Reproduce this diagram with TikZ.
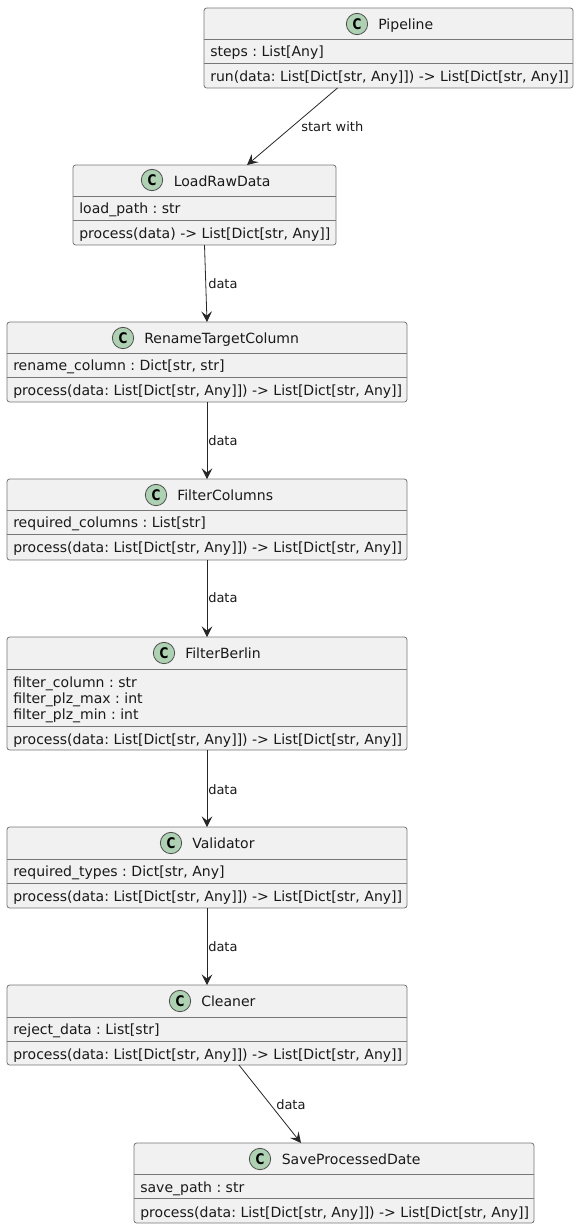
\documentclass[tikz,border=0pt]{standalone}
\usepackage{fontspec}
\setmainfont{DejaVu Sans}
\newfontfamily\iconfont[FakeStretch=0.82]{DejaVu Sans}
\usetikzlibrary{arrows.meta}
\definecolor{classfill}{HTML}{F1F1F1}
\definecolor{classedge}{HTML}{777777}
\definecolor{iconfill}{HTML}{ADD1B2}
\tikzset{%
    classbox/.style={rectangle, draw=classedge, fill=classfill, rounded corners=2pt,
    	line width=.6pt, inner sep=0pt, outer sep=0pt},
    wide/.style={classbox, minimum width=300pt},
    classicon/.style={circle, draw=black!70, fill=iconfill, minimum size=16pt,
    	inner sep=0pt, line width=.6pt, font=\fontsize{11}{12}\iconfont\bfseries},
    classtext/.style={anchor=base west, inner sep=0pt, text=black!90,
    	font=\fontsize{10.53}{12}\selectfont\frenchspacing},
    linktext/.style={anchor=base west, inner sep=0pt, text=black!90,
    	font=\fontsize{9.75}{12}\selectfont\frenchspacing},
    link/.style={draw=black!85, line width=.6pt, -{Stealth[length=8pt, width=8pt, inset=3.2pt]}}
}

\begin{document}
\begin{tikzpicture}[x=.75pt, y=-.75pt]
  \useasboundingbox (0,0) rectangle (579,1229);

  \node (pipe) [classbox, minimum width=276.75pt, minimum height=60pt] at (388.5,48) {};
  \node (load) [classbox, minimum width=197.25pt, minimum height=60pt] at (204.5,205) {};
  \node (rename) [wide, minimum height=60pt] at (207,362) {};
  \node (cols) [wide, minimum height=60.75pt] at (207,519.5) {};
  \node (berlin) [wide, minimum height=84.75pt] at (207,693.5) {};
  \node (valid) [wide, minimum height=60.75pt] at (207,867.5) {};
  \node (clean) [wide, minimum height=60pt] at (207,1025) {};
  \node (save) [wide, minimum height=60pt] at (334,1183) {};

  % header and member lines, px below the top of each box
  \foreach \n/\a/\b in {pipe/31/55, load/31/55, rename/31/55, cols/31/55,
      berlin/32/89, valid/32/56, clean/32/56, save/31/55} {
    \draw[classedge, line width=.6pt] ([yshift=-\a*.75pt]\n.north west) -- ([yshift=-\a*.75pt]\n.north east);
    \draw[classedge, line width=.6pt] ([yshift=-\b*.75pt]\n.north west) -- ([yshift=-\b*.75pt]\n.north east);
  }

  \node (pipeC) [classicon] at (357,24) {C};
  \node (pipeN) [classtext] at (378,29) {Pipeline};
  \node (pipeA) [classtext] at (210,56) {steps : List[Any]};
  \node (pipeM) [classtext] at (210,81) {run(data: List[Dict[str, Any]]) -> List[Dict[str, Any]]};

  \node (loadC) [classicon] at (152,180) {C};
  \node (loadN) [classtext] at (173.5,186) {LoadRawData};
  \node (loadA) [classtext] at (79,213) {load\_path : str};
  \node (loadM) [classtext] at (79,238) {process(data) -> List[Dict[str, Any]]};

  \node (renameC) [classicon] at (123,338) {C};
  \node (renameN) [classtext] at (144,343) {RenameTargetColumn};
  \node (renameA) [classtext] at (13,370) {rename\_column : Dict[str, str]};
  \node (renameM) [classtext] at (13,395) {process(data: List[Dict[str, Any]]) -> List[Dict[str, Any]]};

  \node (colsC) [classicon] at (156,495) {C};
  \node (colsN) [classtext] at (177,500) {FilterColumns};
  \node (colsA) [classtext] at (13,527) {required\_columns : List[str]};
  \node (colsM) [classtext] at (13,552) {process(data: List[Dict[str, Any]]) -> List[Dict[str, Any]]};

  \node (berlinC) [classicon] at (164,653) {C};
  \node (berlinN) [classtext] at (185,658) {FilterBerlin};
  \node (berlinA) [classtext] at (13,687) {filter\_column : str};
  \node (berlinB) [classtext] at (13,703) {filter\_plz\_max : int};
  \node (berlinD) [classtext] at (13,719) {filter\_plz\_min : int};
  \node (berlinM) [classtext] at (13,744) {process(data: List[Dict[str, Any]]) -> List[Dict[str, Any]]};

  \node (validC) [classicon] at (171,843) {C};
  \node (validN) [classtext] at (192,848) {Validator};
  \node (validA) [classtext] at (13,876) {required\_types : Dict[str, Any]};
  \node (validM) [classtext] at (13,901) {process(data: List[Dict[str, Any]]) -> List[Dict[str, Any]]};

  \node (cleanC) [classicon] at (180,1001) {C};
  \node (cleanN) [classtext] at (201,1006) {Cleaner};
  \node (cleanA) [classtext] at (13,1034) {reject\_data : List[str]};
  \node (cleanM) [classtext] at (13,1059) {process(data: List[Dict[str, Any]]) -> List[Dict[str, Any]]};

  \node (saveC) [classicon] at (260,1159) {C};
  \node (saveN) [classtext] at (281.5,1164) {SaveProcessedDate};
  \node (saveA) [classtext] at (140,1192) {save\_path : str};
  \node (saveM) [classtext] at (140,1217) {process(data: List[Dict[str, Any]]) -> List[Dict[str, Any]]};

  \draw[link] ([xshift=-38.25pt]pipe.south) -- ([xshift=31.9pt]load.north);
  \draw[link] (load.south) -- (rename.north);
  \draw[link] (rename.south) -- (cols.north);
  \draw[link] (cols.south) -- (berlin.north);
  \draw[link] (berlin.south) -- (valid.north);
  \draw[link] (valid.south) -- (clean.north);
  \draw[link] ([xshift=24pt]clean.south) -- ([xshift=-24.75pt]save.north);

  \node (l1) [linktext] at (301,131) {start with};
  \node (l2) [linktext] at (208,288) {data};
  \node (l3) [linktext] at (208,445) {data};
  \node (l4) [linktext] at (208,602) {data};
  \node (l5) [linktext] at (208,794) {data};
  \node (l6) [linktext] at (208,951) {data};
  \node (l7) [linktext] at (276,1109) {data};
\end{tikzpicture}
\end{document}
